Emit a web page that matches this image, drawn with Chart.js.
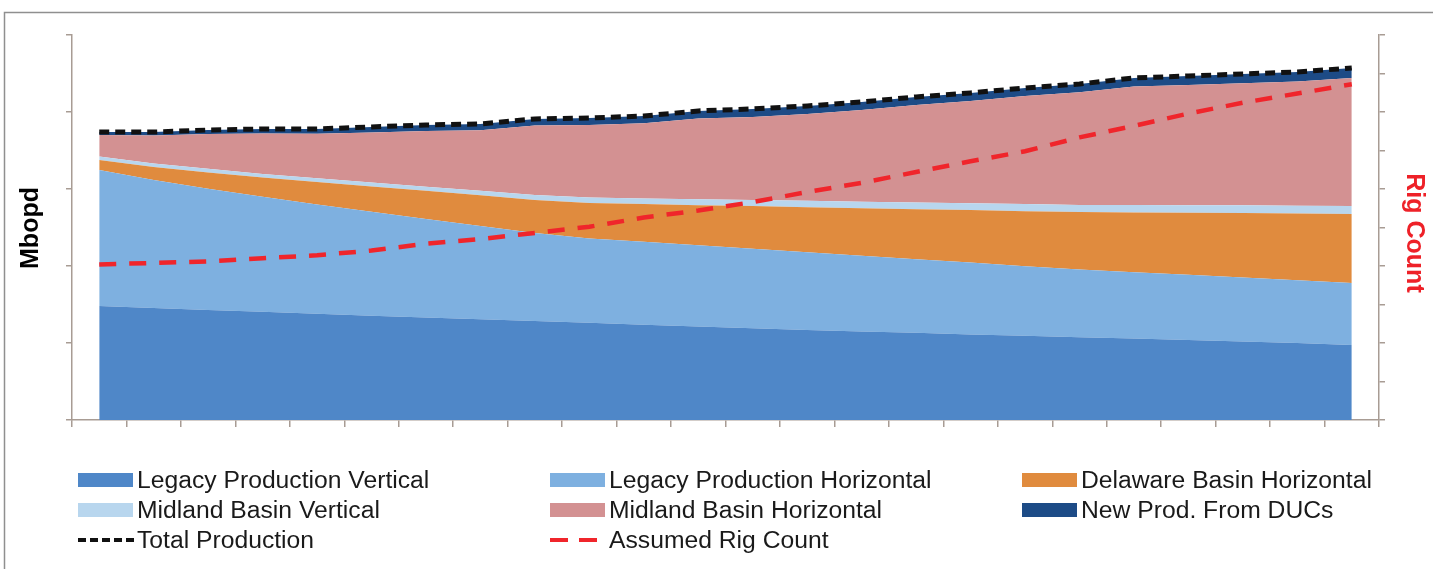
<!DOCTYPE html>
<html>
<head>
<meta charset="utf-8">
<script src="https://cdn.jsdelivr.net/npm/chart.js@4"></script>
<style>
  html, body { margin: 0; padding: 0; background: #fff; }
  #wrap { position: relative; width: 1433px; height: 569px; }
</style>
</head>
<body>
<div id="wrap"><canvas id="c" width="1433" height="569"></canvas></div>
<script>
// Quarterly periods along the x axis
const periods = ['1Q17','2Q17','3Q17','4Q17','1Q18','2Q18','3Q18','4Q18',
                 '1Q19','2Q19','3Q19','4Q19','1Q20','2Q20','3Q20','4Q20',
                 '1Q21','2Q21','3Q21','4Q21','1Q22','2Q22','3Q22','4Q22'];

// Production by source, Mbopd (stacked bottom to top)
const legacyVertical     = [740,727,714,703,690,677,666,654,643,631,619,607,595,585,575,566,556,547,537,529,520,510,500,487];
const legacyHorizontal   = [883,832,788,746,710,675,640,606,572,548,538,527,517,504,491,478,466,452,440,431,423,415,407,403];
const delawareHorizontal = [65,84,105,125,145,165,182,199,214,230,245,261,277,293,309,325,341,357,373,388,403,419,434,448];
const midlandVertical    = [23,23,24,24,25,25,26,29,32,35,37,39,40,42,43,44,45,46,46,48,49,50,51,52];
const midlandHorizontal  = [140,181,226,263,288,325,363,393,451,472,488,524,539,563,595,633,664,702,733,770,781,793,806,831];
const newProdDUCs        = [19,23,26,29,32,36,39,41,43,45,47,49,52,52,52,52,52,52,53,55,58,60,62,65];

// Total production, Mbopd
const totalProduction    = [1870,1870,1883,1890,1890,1903,1916,1922,1955,1961,1974,2007,2020,2039,2065,2098,2124,2156,2182,2221,2234,2247,2260,2286];

// Assumed rig count (right axis)
const rigCount           = [202,204,206,210,214,220,229,235,243,251,263,272,283,296,308,322,336,349,367,382,398,412,424,436];

const AXIS = '#a89c94';
const FONT = '"Liberation Sans", Arial, Helvetica, sans-serif';

function area(label, data, color, fill) {
  return {
    label, data, fill,
    backgroundColor: color,
    borderColor: color,
    borderWidth: 0,
    pointRadius: 0,
    tension: 0,
    yAxisID: 'y',
    order: 2,
    legendKind: 'box'
  };
}

const datasets = [
  area('Legacy Production Vertical',   legacyVertical,     '#4f87c8', 'origin'),
  area('Legacy Production Horizontal', legacyHorizontal,   '#7eb0e0', '-1'),
  area('Delaware Basin Horizontal',    delawareHorizontal, '#e08b3e', '-1'),
  area('Midland Basin Vertical',       midlandVertical,    '#b8d6ee', '-1'),
  area('Midland Basin Horizontal',     midlandHorizontal,  '#d39192', '-1'),
  area('New Prod. From DUCs',          newProdDUCs,        '#1d4b86', '-1'),
  {
    label: 'Total Production', data: totalProduction,
    stack: 'total', yAxisID: 'y', fill: false,
    borderColor: '#111111', borderWidth: 5, borderDash: [10, 6],
    pointRadius: 0, tension: 0, order: 0, legendKind: 'line'
  },
  {
    label: 'Assumed Rig Count', data: rigCount,
    yAxisID: 'y1', fill: false,
    borderColor: '#f0252b', borderWidth: 4.5, borderDash: [17, 13],
    pointRadius: 0, tension: 0, order: 1, legendKind: 'line'
  }
];

// Page frame and axis titles
const framePlugin = {
  id: 'frame',
  beforeDraw(chart) {
    const c = chart.ctx;
    c.save();
    c.fillStyle = '#fff';
    c.fillRect(0, 0, chart.width, chart.height);
    c.strokeStyle = '#8f8f8f';
    c.lineWidth = 1.5;
    c.beginPath();
    c.moveTo(4.5, chart.height);
    c.lineTo(4.5, 12.5);
    c.lineTo(chart.width, 12.5);
    c.stroke();
    c.restore();
  },
  afterDraw(chart) {
    const c = chart.ctx;
    c.save();
    c.textAlign = 'center';
    c.textBaseline = 'middle';
    c.fillStyle = '#000';
    c.font = 'bold 25px ' + FONT;
    c.translate(31, 228);
    c.rotate(-Math.PI / 2);
    c.fillText('Mbopd', 0, 0);
    c.restore();

    c.save();
    c.textAlign = 'center';
    c.textBaseline = 'middle';
    c.fillStyle = '#ee2128';
    c.font = 'bold 25px ' + FONT;
    c.translate(1414, 233);
    c.rotate(Math.PI / 2);
    c.fillText('Rig Count', 0, 0);
    c.restore();
  }
};

// Three-column legend below the plot
const legendPlugin = {
  id: 'gridLegend',
  afterDraw(chart) {
    const c = chart.ctx;
    const cols = [78, 550, 1022];
    const rows = [480, 510, 540];
    c.save();
    c.font = '24.7px ' + FONT;
    c.textBaseline = 'middle';
    c.textAlign = 'left';
    chart.data.datasets.forEach((ds, k) => {
      const x = cols[k % 3];
      const y = rows[Math.floor(k / 3)];
      if (ds.legendKind === 'box') {
        c.fillStyle = ds.backgroundColor;
        c.fillRect(x, y - 7, 55, 14);
      } else {
        c.strokeStyle = ds.borderColor;
        c.lineWidth = 4;
        c.setLineDash(k === 6 ? [8, 4] : [18, 11]);
        c.beginPath();
        c.moveTo(x, y);
        c.lineTo(x + 56, y);
        c.stroke();
        c.setLineDash([]);
      }
      c.fillStyle = '#1a1a1a';
      c.fillText(ds.label, x + 59, y + 1);
    });
    c.restore();
  }
};

new Chart(document.getElementById('c').getContext('2d'), {
  type: 'line',
  data: { labels: periods, datasets },
  options: {
    responsive: false,
    animation: false,
    events: [],
    layout: { padding: { top: 35, left: 0, right: 0, bottom: 0 } },
    plugins: { legend: { display: false }, tooltip: { enabled: false }, title: { display: false } },
    scales: {
      x: {
        type: 'category',
        offset: true,
        grid: { display: true, drawOnChartArea: false, drawTicks: true, tickLength: 7, color: AXIS, offset: true, lineWidth: 1.5 },
        border: { display: true, color: AXIS, width: 1.5 },
        ticks: { display: false },
        afterFit(s) { s.height = 149; }
      },
      y: {
        position: 'left',
        stacked: true,
        min: 0, max: 2500,
        ticks: { display: false, stepSize: 500 },
        grid: { drawOnChartArea: false, drawTicks: true, tickLength: 6, color: AXIS, lineWidth: 1.5 },
        border: { display: true, color: AXIS, width: 1.5 },
        afterFit(s) { s.width = 72; }
      },
      y1: {
        position: 'right',
        min: 0, max: 500,
        ticks: { display: false, stepSize: 50 },
        grid: { drawOnChartArea: false, drawTicks: true, tickLength: 6, color: AXIS, lineWidth: 1.5 },
        border: { display: true, color: AXIS, width: 1.5 },
        afterFit(s) { s.width = 54; }
      }
    }
  },
  plugins: [framePlugin, legendPlugin]
});
</script>
</body>
</html>
